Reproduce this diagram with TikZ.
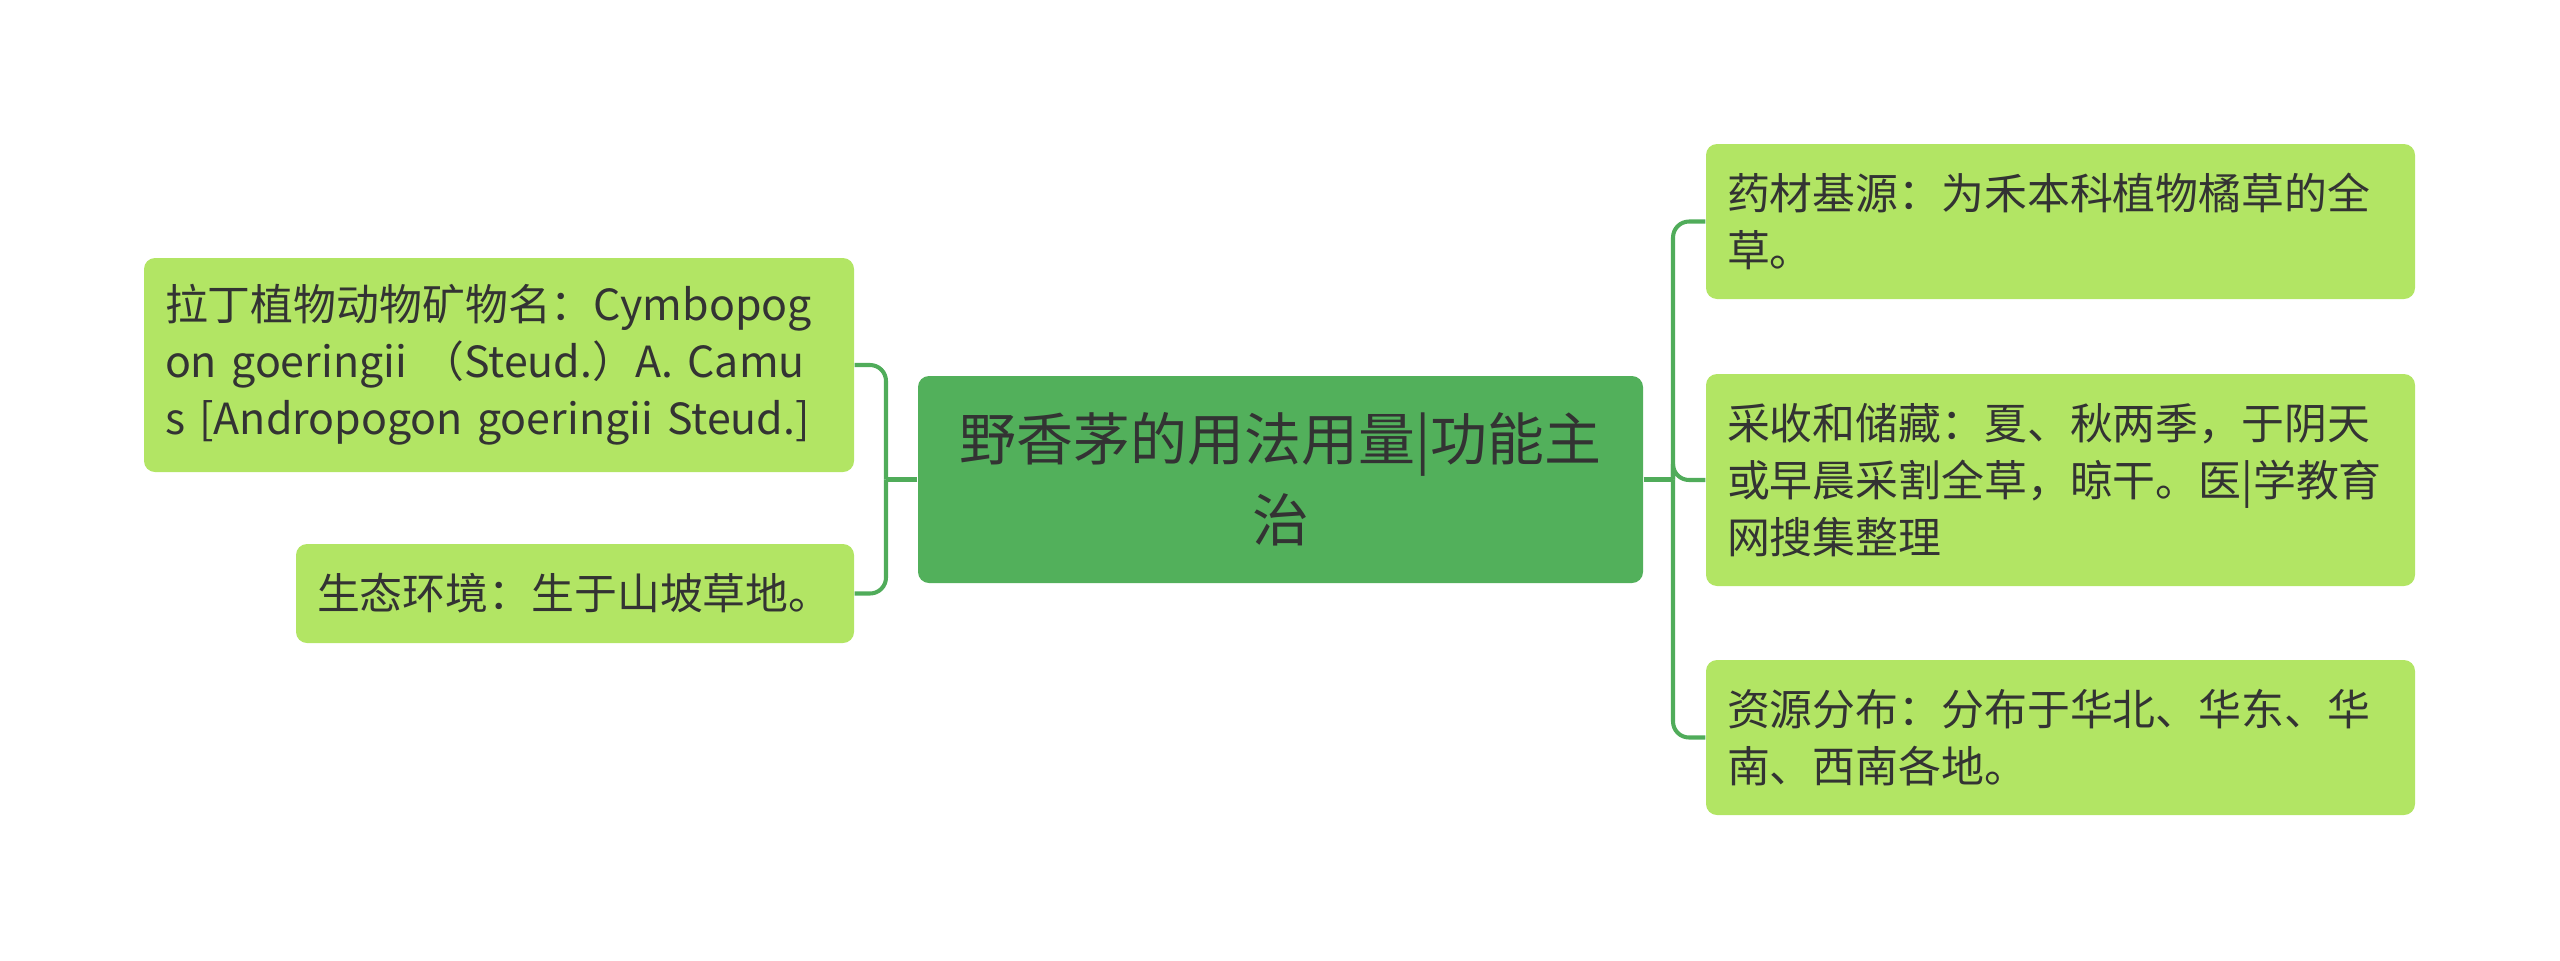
\documentclass[tikz,border=0pt]{standalone}
\usepackage{fontspec}
\newfontfamily\cjk{Noto Sans CJK SC}
\definecolor{rootgreen}{RGB}{82,176,91}
\definecolor{leafgreen}{RGB}{178,229,100}
\definecolor{linkgreen}{RGB}{80,172,90}
\definecolor{inkgray}{RGB}{51,51,51}
\begin{document}
\begin{tikzpicture}[
  leaf/.style={fill=leafgreen,rounded corners=0.11cm,text=inkgray,align=left,
    inner sep=0pt,font={\cjk\fontsize{12.2}{16.2}\selectfont}},
  root/.style={fill=rootgreen,rounded corners=0.11cm,text=inkgray,align=center,
    minimum width=7.25cm,minimum height=2.07cm,inner sep=0pt,
    font={\cjk\fontsize{16.2}{23}\selectfont}},
  link/.style={draw=linkgreen,line width=1.15pt}]
  \useasboundingbox (0,0) rectangle (25.6,9.6);
  \node[root] (ctr) at (12.805,4.805) {野香茅的用法用量|功能主\\治};
  \node[leaf,minimum width=7.10cm,minimum height=2.14cm,text width=6.68cm] (lat) at (4.99,5.95)
    {拉丁植物动物矿物名：Cymbopog\\on goeringii （Steud.）A. Camu\\s [Andropogon goeringii Steud.]};
  \node[leaf,minimum width=5.58cm,minimum height=0.99cm,text width=5.16cm] (env) at (5.75,3.665)
    {生态环境：生于山坡草地。};
  \node[leaf,minimum width=7.09cm,minimum height=1.55cm,text width=6.67cm] (src) at (20.605,7.385)
    {药材基源：为禾本科植物橘草的全\\草。};
  \node[leaf,minimum width=7.09cm,minimum height=2.12cm,text width=6.67cm] (harv) at (20.605,4.80)
    {采收和储藏：夏、秋两季，于阴天\\或早晨采割全草，晾干。医|学教育\\网搜集整理};
  \node[leaf,minimum width=7.09cm,minimum height=1.55cm,text width=6.67cm] (dist) at (20.605,2.225)
    {资源分布：分布于华北、华东、华\\南、西南各地。};
  \coordinate (lj) at (8.86,4.805);
  \coordinate (rj) at (16.73,4.805);
  \draw[link] (ctr.west) -- (lj);
  \draw[link] (ctr.east) -- (rj);
  \draw[link,rounded corners=0.16cm] (lj) |- (lat.east);
  \draw[link,rounded corners=0.16cm] (lj) |- (env.east);
  \draw[link,rounded corners=0.16cm] (rj) |- (src.west);
  \draw[link,rounded corners=0.16cm] (rj) |- (harv.west);
  \draw[link,rounded corners=0.16cm] (rj) |- (dist.west);
\end{tikzpicture}
\end{document}
